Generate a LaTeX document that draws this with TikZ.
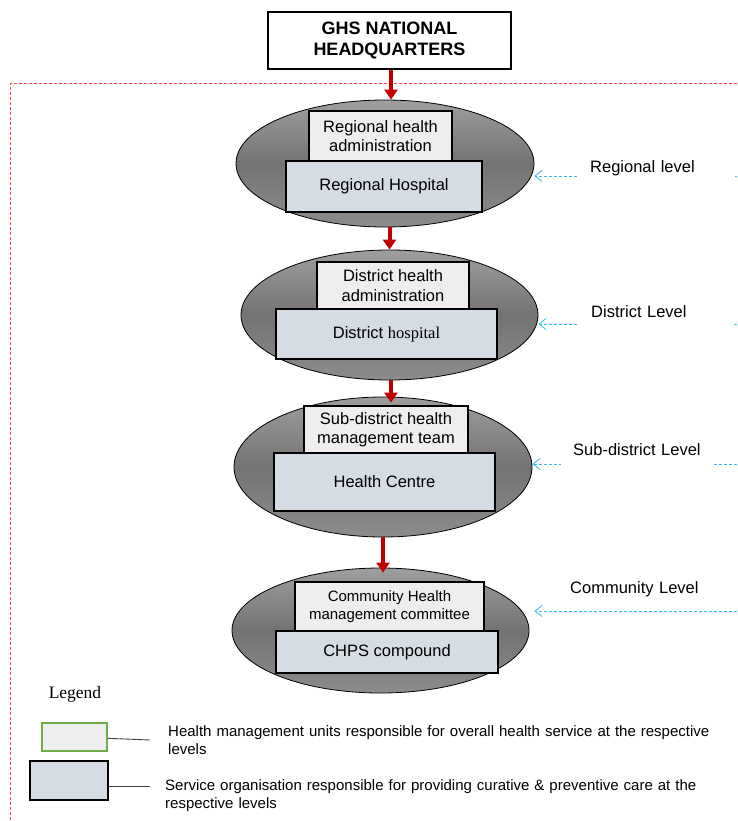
\documentclass[tikz,border=0pt]{standalone}
\usepackage{fontspec}
\setmainfont{Liberation Sans}
\newfontfamily\timesfont{Liberation Serif}
\usetikzlibrary{arrows.meta,shapes.geometric}
\definecolor{admfill}{RGB}{238,238,238}
\definecolor{hospfill}{RGB}{214,220,228}
\definecolor{arrowred}{RGB}{192,0,0}
\definecolor{levelblue}{RGB}{51,187,238}
\definecolor{legendgreen}{RGB}{112,173,71}
\definecolor{framered}{RGB}{255,70,70}

\begin{document}
\begin{tikzpicture}[x = 1pt, y = -1pt,
    tier/.style = {ellipse, draw, line width = 0.8pt, top color = black!38, bottom color = black!45, middle color = black!55},
    adm/.style = {rectangle, draw, line width = 1.2pt, fill = admfill, align = center, inner sep = 0pt, font = \fontsize{16.5}{19.5}\selectfont},
    hosp/.style = {rectangle, draw, line width = 1.2pt, fill = hospfill, align = center, inner sep = 0pt, font = \fontsize{16.5}{19.5}\selectfont},
    down/.style = {draw = arrowred, line width = 4pt, -{Triangle[length = 10pt, width = 13pt]}},
    pointer/.style = {draw = levelblue, line width = 0.8pt, dash pattern = on 3pt off 2pt, -{Straight Barb[length = 7pt, width = 11pt]}},
    lvl/.style = {fill = white, anchor = west, inner xsep = 12pt, text width = #1, align = left, minimum height = 30pt, font = \fontsize{16.5}{19.5}\selectfont},
    legendtext/.style = {anchor = base west, inner sep = 0pt, text width = 560pt, align = left, font = \fontsize{15}{18}\selectfont}]
  \useasboundingbox (0, 0) rectangle (737, 821);
  \draw [framered, line width = 1pt, dash pattern = on 3pt off 2pt] (737, 84) -- (10, 84) -- (10, 821);

  \node [rectangle, draw, line width = 1.3pt, minimum width = 243pt, minimum height = 57pt, align = center,
         font = \fontsize{18}{21}\selectfont\bfseries] (hq) at (389.5, 40.5) {GHS NATIONAL\\HEADQUARTERS};

  \node [tier, minimum width = 298pt, minimum height = 127pt] (ell1) at (385, 163.5) {};
  \node [adm, minimum width = 143pt, minimum height = 50pt] (adm1) at (380.5, 136) {Regional health\\administration};
  \node [hosp, minimum width = 196pt, minimum height = 51pt] (hosp1) at (384, 186.5) {Regional Hospital};

  \node [tier, minimum width = 297pt, minimum height = 130pt] (ell2) at (389.5, 315) {};
  \node [adm, minimum width = 152pt, minimum height = 47pt] (adm2) at (393, 285.5) {District health\\administration};
  \node [hosp, minimum width = 221pt, minimum height = 50pt] (hosp2) at (386.5, 334) {District {\timesfont hospital}};

  \node [tier, minimum width = 298pt, minimum height = 140pt] (ell3) at (383, 467) {};
  \node [adm, minimum width = 164pt, minimum height = 47pt] (adm3) at (386, 429.5) {Sub-district health\\management team};
  \node [hosp, minimum width = 221pt, minimum height = 58pt] (hosp3) at (384.5, 482) {Health Centre};

  \node [tier, minimum width = 297pt, minimum height = 125pt] (ell4) at (380.5, 630.5) {};
  \node [adm, minimum width = 189pt, minimum height = 49pt, font = \fontsize{15}{18.5}\selectfont] (adm4) at (389.5, 606.5) {Community Health\\management committee};
  \node [hosp, minimum width = 222pt, minimum height = 42pt] (hosp4) at (387, 652) {CHPS compound};

  \draw [down] ([xshift = 1.5pt]hq.south) -- ([xshift = 1.5pt]hq.south |- ell1.north);
  \draw [down] (ell2.north |- ell1.south) -- (ell2.north);
  \draw [down] ([xshift = 1.5pt]ell2.south) -- ([xshift = 1.5pt, yshift = -6pt]ell2.south |- ell3.north);
  \draw [down] (ell3.south) -- ([yshift = -5pt]ell3.south |- ell4.north);

  \coordinate (e1) at (737, 176);
  \coordinate (e2) at (737, 324);
  \coordinate (e3) at (737, 464);
  \coordinate (e4) at (737, 611);
  \draw [pointer] (e1) -- (e1 -| ell1.east);
  \draw [pointer] (e2) -- (e2 -| ell2.east);
  \draw [pointer] (e3) -- (e3 -| ell3.east);
  \draw [pointer] (e4) -- ([xshift = 5pt]e4 -| ell4.east);
  \node [lvl = 133pt] (lv1) at (578, 168) {Regional level};
  \node [lvl = 129pt] (lv2) at (579, 312) {District Level};
  \node [lvl = 128pt] (lv3) at (561, 450) {Sub-district Level};
  \node [lvl = 130pt, fill = none] (lv4) at (558, 589) {Community Level};

  \node [font = \fontsize{17.5}{20}\timesfont] (legend) at (75, 694) {Legend};
  \node [rectangle, draw = legendgreen, line width = 1.2pt, fill = admfill, minimum width = 65pt, minimum height = 28pt] (key1) at (74.5, 737) {};
  \node [rectangle, draw, line width = 1.2pt, fill = hospfill, minimum width = 78pt, minimum height = 39pt] (key2) at (69, 780.5) {};
  \coordinate (k1) at (150, 740);
  \coordinate (k2) at (150, 786);
  \draw [black!75, line width = 0.9pt] (key1) -- (k1);
  \draw [black!75, line width = 0.9pt] (key2.east |- k2) -- (k2);
  \node [legendtext] (txt1) at (168, 736) {Health management units responsible for overall health service at the respective levels};
  \node [legendtext] (txt2) at (165, 790) {Service organisation responsible for providing curative \& preventive care at the respective levels};
\end{tikzpicture}
\end{document}
